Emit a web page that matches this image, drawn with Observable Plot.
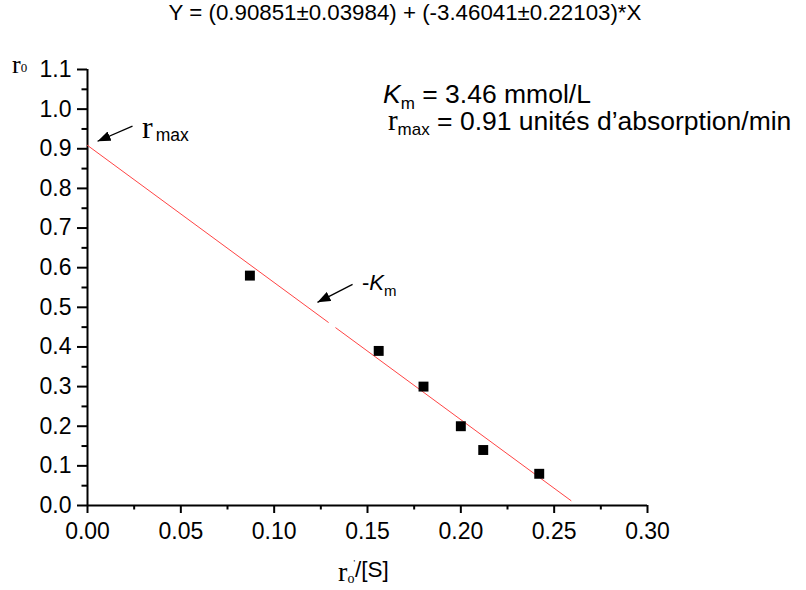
<!DOCTYPE html>
<html><head><meta charset="utf-8">
<script src="https://cdn.jsdelivr.net/npm/d3@7"></script>
<script src="https://cdn.jsdelivr.net/npm/@observablehq/plot@0.6"></script>
<style>body{margin:0;background:#fff} svg{font-family:"Liberation Sans",Arial,sans-serif}</style>
</head><body><div id="chart"></div>
<script>
// measured points
const ratioX = [0.087, 0.156, 0.180, 0.200, 0.212, 0.242];
const rateY = [0.58, 0.39, 0.30, 0.20, 0.14, 0.08];
// fitted line (drawn in two pieces, as in the figure)
const fitX = [0, 0.129, 0.133, 0.259];
const fitY = [0.9085, 0.4621, 0.4483, 0.0123];
const fitSeg = ["a", "a", "b", "b"];
// ticks
const xTicks = [0, 0.05, 0.10, 0.15, 0.20, 0.25, 0.30];
const xMinor = [0.025, 0.075, 0.125, 0.175, 0.225, 0.275];
const yTicks = [0, 0.1, 0.2, 0.3, 0.4, 0.5, 0.6, 0.7, 0.8, 0.9, 1.0, 1.1];
const yMinor = [0.05, 0.15, 0.25, 0.35, 0.45, 0.55, 0.65, 0.75, 0.85, 0.95, 1.05];
// arrows (data units)
const arrowX1 = [0.0241, 0.142];
const arrowY1 = [0.957, 0.558];
const arrowX2 = [0.0054, 0.1232];
const arrowY2 = [0.919, 0.5126];
const titleText = "Y = (0.90851±0.03984) + (-3.46041±0.22103)*X";

const points = ratioX.map((x, i) => ({x, y: rateY[i]}));
const fit = fitX.map((x, i) => ({x, y: fitY[i], s: fitSeg[i]}));
const arrows = arrowX1.map((x1, i) => ({x1, y1: arrowY1[i], x2: arrowX2[i], y2: arrowY2[i]}));

const W = 806, H = 590;
const chart = Plot.plot({
  width: W, height: H,
  marginLeft: 87, marginRight: 159, marginTop: 69, marginBottom: 85,
  style: {color: "#000", background: "#fff"},
  x: {domain: [0, 0.30]},
  y: {domain: [0, 1.1]},
  marks: [
    Plot.axisX(xTicks, {tickSize: 8, tickPadding: 9, strokeWidth: 2, tickFormat: d3.format(".2f"), fontSize: 23, label: null}),
    Plot.axisX(xMinor, {tickSize: 4.5, strokeWidth: 2, text: null, label: null}),
    Plot.axisY(yTicks, {tickSize: 10, tickPadding: 6, strokeWidth: 2, tickFormat: d3.format(".1f"), fontSize: 23, label: null}),
    Plot.axisY(yMinor, {tickSize: 5.5, strokeWidth: 2, text: null, label: null}),
    Plot.ruleY([0], {strokeWidth: 2}),
    Plot.ruleX([0], {strokeWidth: 2}),
    Plot.line(fit, {x: "x", y: "y", z: "s", stroke: "#ff4444", strokeWidth: 1}),
    Plot.dot(points, {x: "x", y: "y", symbol: "square", r: 5.6, fill: "#000", stroke: "none"}),
    Plot.link(arrows, {x1: "x1", y1: "y1", x2: "x2", y2: "y2", stroke: "#000", strokeWidth: 1.3, className: "annot-arrow"})
  ]
});
document.getElementById("chart").appendChild(chart);

const svg = d3.select(chart);
const sx = chart.scale("x").apply, sy = chart.scale("y").apply;
svg.append("defs").html('<marker id="ahead" markerUnits="userSpaceOnUse" markerWidth="14" markerHeight="10" refX="13" refY="5" orient="auto"><path d="M0,0 L13,5 L0,10 Z" fill="#000"/></marker>');
svg.selectAll(".annot-arrow path, .annot-arrow line").attr("marker-end", "url(#ahead)");

function rich(px, py, parts, anchor) {
  const t = svg.append("text").attr("x", px).attr("y", py).attr("text-anchor", anchor || "start").attr("fill", "#000");
  for (const p of parts) {
    t.append("tspan")
      .attr("font-family", p.f || "Liberation Sans")
      .attr("font-size", p.s)
      .attr("font-style", p.i ? "italic" : null)
      .attr("dx", p.dx || null)
      .attr("dy", p.dy || 0)
      .text(p.t);
  }
  return t;
}
const serif = "Liberation Serif";
// title
rich(W / 2 + 2, 20, [{t: titleText, s: 22.3}], "middle");
// y label
rich(12, 73, [{t: "r", s: 26, f: serif}, {t: "0", s: 13, f: serif, dy: -1}]);
// x label
rich(sx(0.1345), H - 9, [{t: "r", s: 28, f: serif}, {t: "o", s: 14, f: serif, dy: 2}, {t: "'", s: 9, f: serif, dx: -1, dy: -17}, {t: "/[S]", s: 22.5, dy: 11}]);
// r max near arrow
rich(sx(0.0295), sy(0.925), [{t: "r", s: 32, f: serif}, {t: "max", s: 17.5, dx: 3, dy: 3}]);
// -Km
rich(sx(0.1473), sy(0.543), [{t: "-", s: 22}, {t: "K", s: 22, i: true}, {t: "m", s: 15, dy: 6}]);
// result block
rich(sx(0.1586), sy(1.015), [{t: "K", s: 26.5, i: true}, {t: "m", s: 17, dy: 6}, {t: " = 3.46 mmol/L", s: 26.5, dy: -6}]);
rich(sx(0.1612), sy(0.945), [{t: "r", s: 29, f: serif}, {t: "max", s: 17, dy: 5}, {t: " = 0.91 unités d’absorption/min", s: 26.5, dy: -5}]);
</script></body></html>
